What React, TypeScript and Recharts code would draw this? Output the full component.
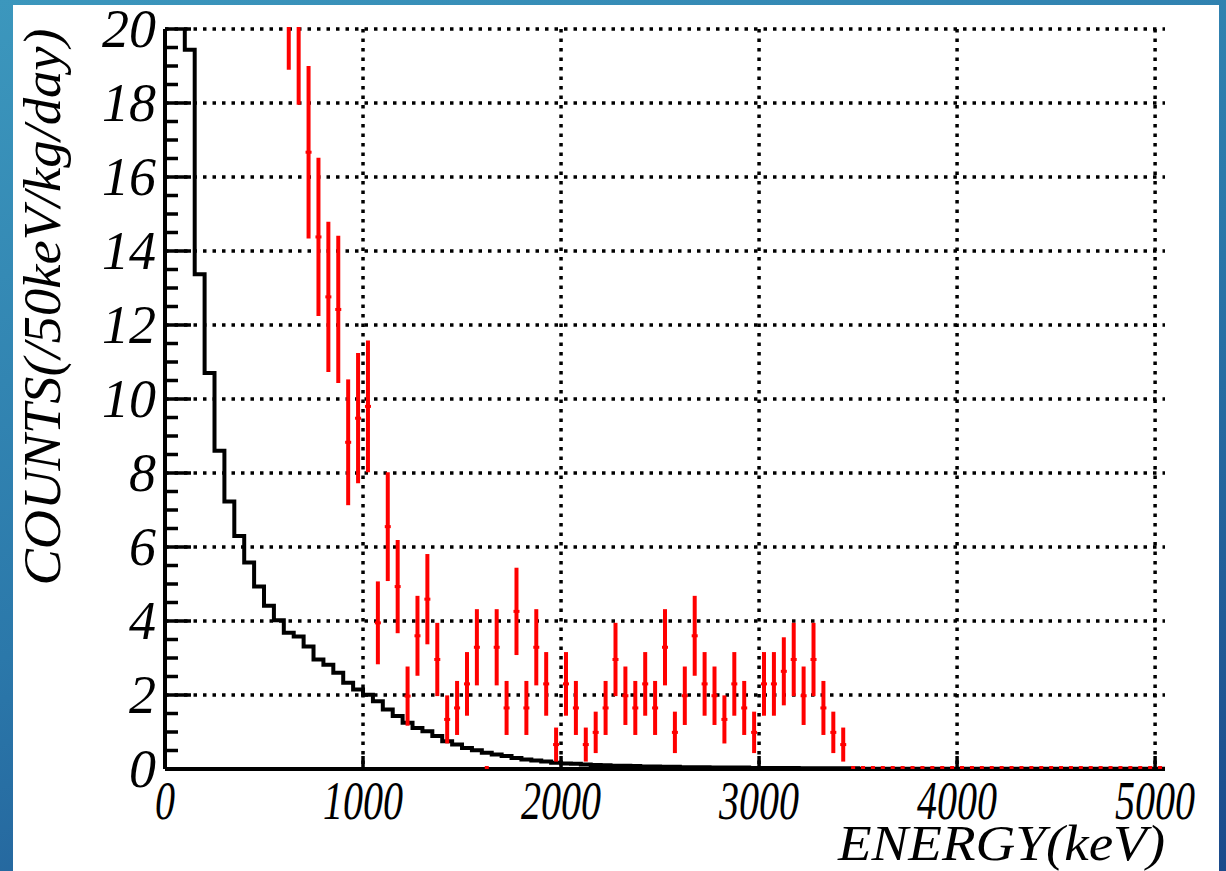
import React from "react";
import { ComposedChart, Line, Scatter, ErrorBar, XAxis, YAxis, CartesianGrid } from "recharts";

const BIN_WIDTH = 50;

// black histogram: one value per 50 keV bin, first bin starts at 0 keV
const bgCounts = [
  45, 28, 19.44, 13.37, 10.7, 8.6, 7.23, 6.3, 5.58, 4.93,
  4.41, 4.02, 3.68, 3.58, 3.31, 2.96, 2.82, 2.6, 2.33, 2.15,
  2.01, 1.83, 1.61, 1.43, 1.25, 1.11, 1.02, 0.89, 0.75, 0.66,
  0.57, 0.51, 0.44, 0.39, 0.35, 0.3, 0.26, 0.23, 0.2, 0.17,
  0.15, 0.14, 0.12, 0.11, 0.1, 0.09, 0.09, 0.08, 0.07, 0.07,
  0.06, 0.06, 0.05, 0.05, 0.05, 0.04, 0.04, 0.04, 0.04, 0.03,
  0.03, 0.03, 0.03, 0.03, 0.02, 0.02, 0.02, 0.02, 0.02, 0.02,
  0.01, 0.01, 0.01, 0.01, 0.01, 0.01, 0.01, 0.01, 0.01, 0.01,
  0.01, 0.01, 0.01, 0.01, 0.01, 0.01, 0.01, 0.01, 0.01, 0.01,
  0.01, 0.01, 0.01, 0.01, 0.01, 0.01, 0.01, 0.01, 0.01, 0.01,
  0.01,
];

// red points (bin centres, keV)
const redEnergy = [
  625, 675, 725, 775, 825, 875, 925, 975, 1025, 1075,
  1125, 1175, 1225, 1275, 1325, 1375, 1425, 1475, 1525, 1575,
  1675, 1725, 1775, 1825, 1875, 1925, 1975, 2025, 2075, 2125,
  2175, 2225, 2275, 2325, 2375, 2425, 2475, 2525, 2575, 2625,
  2675, 2725, 2775, 2825, 2875, 2925, 2975, 3025, 3075, 3125,
  3175, 3225, 3275, 3325, 3375, 3425,
];
const redCounts = [
  21.5, 20.5, 16.67, 14.38, 12.76, 12.42, 8.83, 9.48, 9.8, 3.95,
  6.55, 4.93, 1.97, 3.6, 4.59, 2.96, 1.34, 1.65, 2.3, 3.29,
  3.29, 1.65, 4.26, 1.65, 3.29, 2.3, 0.66, 2.3, 1.65, 0.66,
  0.99, 1.65, 2.96, 1.98, 1.65, 2.3, 1.65, 3.29, 0.99, 1.98,
  3.6, 2.3, 1.98, 1.34, 2.3, 1.65, 0.99, 2.3, 2.3, 2.64,
  2.96, 1.98, 2.96, 1.65, 0.99, 0.66,
];
const redErrors = [
  2.6, 2.55, 2.33, 2.14, 2.03, 1.99, 1.7, 1.76, 1.78, 1.12,
  1.47, 1.26, 0.8, 1.08, 1.22, 0.99, 0.65, 0.73, 0.86, 1.03,
  1.03, 0.73, 1.18, 0.73, 1.03, 0.86, 0.46, 0.86, 0.73, 0.46,
  0.56, 0.73, 0.99, 0.79, 0.73, 0.86, 0.73, 1.03, 0.56, 0.79,
  1.08, 0.86, 0.79, 0.65, 0.86, 0.73, 0.56, 0.86, 0.86, 0.92,
  0.99, 0.79, 0.99, 0.73, 0.56, 0.46,
];
// empty red bins (drawn as dots on the axis)
const redEmpty = [
  1625, 3475, 3525, 3575, 3625, 3675, 3725, 3775, 3825, 3875,
  3925, 3975, 4025, 4075, 4125, 4175, 4225, 4275, 4325, 4375,
  4425, 4475, 4525, 4575, 4625, 4675, 4725, 4775, 4825, 4875,
  4925, 4975, 5025,
];

const xTicks = [0, 1000, 2000, 3000, 4000, 5000];
const yMajor = [0, 2, 4, 6, 8, 10, 12, 14, 16, 18, 20];
const yMinor = [1, 3, 5, 7, 9, 11, 13, 15, 17, 19, 0.5, 1.5, 2.5, 3.5, 4.5, 5.5, 6.5, 7.5, 8.5, 9.5,
  10.5, 11.5, 12.5, 13.5, 14.5, 15.5, 16.5, 17.5, 18.5, 19.5];

const histData = bgCounts
  .map((v, i) => ({ e: i * BIN_WIDTH, v }))
  .concat([{ e: bgCounts.length * BIN_WIDTH, v: bgCounts[bgCounts.length - 1] }]);
const redData = redEnergy.map((e, i) => ({ e, v: redCounts[i], err: redErrors[i] }));
const emptyData = redEmpty.map((e) => ({ e, v: 0 }));

const FONT = "'Liberation Serif', 'Times New Roman', serif";

const XTick = (props: any) => {
  const { x, y, payload } = props;
  const s = String(payload.value);
  return (
    <g>
      <line x1={x} x2={x} y1={y} y2={y - 13} stroke="#000" strokeWidth={3.5} />
      <text x={x} y={y + 50} textAnchor="middle" fontFamily={FONT} fontStyle="italic" fontSize={54}
        textLength={20 * s.length} lengthAdjust="spacingAndGlyphs" fill="#000">{s}</text>
    </g>
  );
};

const YTick = (props: any) => {
  const { x, y, payload } = props;
  const v = payload.value;
  const major = yMajor.includes(v);
  return (
    <g>
      <line x1={x} x2={x + (major ? 26 : 13)} y1={y} y2={y} stroke="#000" strokeWidth={3.5} />
      {major && (
        <text x={x - 9} y={y + 18} textAnchor="end" fontFamily={FONT} fontStyle="italic" fontSize={54} fill="#000">
          {v}
        </text>
      )}
    </g>
  );
};

const RedMark = (props: any) => {
  const { cx, cy } = props;
  return <rect x={cx - 3} y={cy - 1.5} width={6} height={3} fill="#ff0000" />;
};

const EmptyMark = (props: any) => {
  const { cx, cy } = props;
  return <rect x={cx - 2} y={cy - 3} width={4} height={3} fill="#ff0000" />;
};

export default function App() {
  return (
    <div style={{ position: "absolute", left: 0, top: 0, width: 1226, height: 871, overflow: "hidden",
      background: "linear-gradient(160deg, #3c97bd 0%, #2b78aa 50%, #1b4a8b 100%)" }}>
      <div style={{ position: "absolute", left: 13, top: 5, width: 1206, height: 866, background: "#fff" }} />
      {/* clip away whatever runs past the top of the frame (error bars above 20) */}
      <div style={{ position: "absolute", left: 0, top: 0,
        clipPath: "polygon(0 0, 168px 0, 168px 27px, 1226px 27px, 1226px 871px, 0 871px)" }}>
        <ComposedChart width={1226} height={871} margin={{ top: 29, right: 61, bottom: 1, left: 95 }}>
          <CartesianGrid stroke="#000" strokeWidth={3.5} strokeDasharray="3.5 6"
            horizontalValues={yMajor} verticalValues={xTicks} />
          <XAxis dataKey="e" type="number" domain={[0, 5050]} ticks={xTicks} allowDataOverflow
            height={101} tickSize={0} tickMargin={0} tickLine={false} tick={<XTick />}
            axisLine={{ stroke: "#000", strokeWidth: 4 }}
            label={{
              content: (p: any) => {
                const vb = p.viewBox || { x: 165, y: 769, width: 1000 };
                return (
                  <text x={vb.x + vb.width} y={vb.y + 91} textAnchor="end" fontFamily={FONT} fontStyle="italic"
                    fontSize={50} textLength={327} lengthAdjust="spacingAndGlyphs" fill="#000">
                    ENERGY(keV)
                  </text>
                );
              },
            }} />
          <XAxis xAxisId="top" orientation="top" type="number" domain={[0, 5050]} height={0} tick={false}
            tickLine={false} axisLine={{ stroke: "#000", strokeWidth: 4 }} />
          <YAxis dataKey="v" type="number" domain={[0, 20]} allowDataOverflow width={70}
            ticks={[...yMajor, ...yMinor].sort((a, b) => a - b)} interval={0}
            tickSize={0} tickMargin={0} tickLine={false} tick={<YTick />}
            axisLine={{ stroke: "#000", strokeWidth: 4 }}
            label={{
              content: (p: any) => {
                const vb = p.viewBox || { x: 95, y: 29 };
                const cx = vb.x - 35;
                const cy = vb.y + 278;
                return (
                  <text x={cx} y={cy} transform={`rotate(-90, ${cx}, ${cy})`} textAnchor="middle" fontFamily={FONT}
                    fontStyle="italic" fontSize={52} textLength={557} lengthAdjust="spacingAndGlyphs" fill="#000">
                    COUNTS(/50keV/kg/day)
                  </text>
                );
              },
            }} />
          <YAxis yAxisId="right" orientation="right" type="number" domain={[0, 20]} width={0} tick={false}
            tickLine={false} axisLine={{ stroke: "#000", strokeWidth: 4 }} />
          <Line data={histData} dataKey="v" type="stepAfter" stroke="#000" strokeWidth={4} dot={false}
            isAnimationActive={false} />
          <Scatter data={redData} dataKey="v" fill="#ff0000" shape={<RedMark />} isAnimationActive={false}>
            <ErrorBar dataKey="err" direction="y" width={0} stroke="#ff0000" strokeWidth={4}
              isAnimationActive={false} />
          </Scatter>
          <Scatter data={emptyData} dataKey="v" fill="#ff0000" shape={<EmptyMark />} isAnimationActive={false} />
        </ComposedChart>
      </div>
    </div>
  );
}
